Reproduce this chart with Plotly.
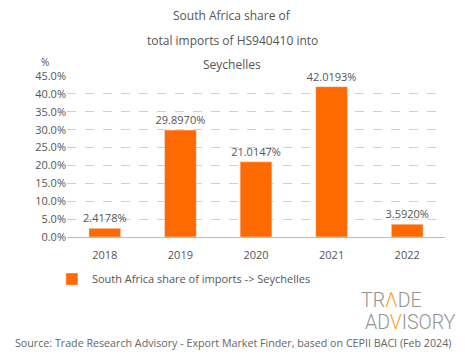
import plotly.graph_objects as go

years = ["2018", "2019", "2020", "2021", "2022"]
shares = [2.4178, 29.8970, 21.0147, 42.0193, 3.5920]
labels = ["2.4178%", "29.8970%", "21.0147%", "42.0193%", "3.5920%"]
series_name = "South Africa share of imports -> Seychelles"
title_lines = ["South Africa share of", "total imports of HS940410 into", "Seychelles"]
source = "Source: Trade Research Advisory - Export Market Finder, based on CEPII BACI (Feb 2024)"

FONT = "Open Sans"
GRAY = "#555555"

fig = go.Figure()
fig.add_trace(go.Bar(
    x=years, y=shares, name=series_name,
    marker_color="#FF6A00", width=0.42,
    text=labels, textposition="outside", cliponaxis=False, constraintext="none",
    textfont=dict(size=11, color=GRAY, family=FONT),
))

def py(ypix):
    return (237 - ypix) / 161

def px(xpix):
    return (xpix - 67) / 378

ann = []
for t, ypix in zip(title_lines, [16, 40, 64]):
    ann.append(dict(text=t, xref="paper", yref="paper", x=px(232), y=py(ypix), xanchor="center",
                    yanchor="middle", showarrow=False,
                    font=dict(size=12, color=GRAY, family=FONT)))
ann.append(dict(text="%", xref="paper", yref="paper", x=px(45), y=py(62),
                xanchor="center", yanchor="middle", showarrow=False,
                font=dict(size=10, color=GRAY, family=FONT)))
ann.append(dict(text="TR<span style='color:#F5A623'>Λ</span>DE", xref="paper", yref="paper",
                x=px(391), y=py(300), xanchor="center", yanchor="middle",
                showarrow=False, font=dict(size=19.5, color="#939393", family="Roboto", weight=300)))
ann.append(dict(text="AD<span style='color:#F5A623'>V</span>ISORY", xref="paper", yref="paper",
                x=px(410), y=py(322), xanchor="center", yanchor="middle",
                showarrow=False, font=dict(size=19.5, color="#939393", family="Roboto", weight=300)))
ann.append(dict(text=source, xref="paper", yref="paper", x=px(233), y=py(343),
                xanchor="center", yanchor="middle", showarrow=False,
                font=dict(size=10.7, color="#666666", family=FONT)))

# page body adds an 8px margin; compensate so the visible layout matches
fig.update_layout(
    width=457, height=351,
    margin=dict(l=59, r=20, t=68, b=122),
    paper_bgcolor="white", plot_bgcolor="white",
    font=dict(family=FONT, color=GRAY, size=11),
    showlegend=True,
    legend=dict(orientation="h", x=-0.04, y=py(279), xanchor="left", yanchor="middle",
                font=dict(size=11, color=GRAY, family=FONT)),
    annotations=ann,
)
fig.update_yaxes(range=[0, 45], dtick=5, tickformat=".1f", ticksuffix="%", automargin=False,
                 showgrid=True, gridcolor="#d0d0d0", griddash="dash", gridwidth=1,
                 zeroline=True, zerolinecolor="#bbbbbb", zerolinewidth=1,
                 tickfont=dict(size=11, color=GRAY), ticks="", ticklen=0)
fig.update_xaxes(showline=False, tickfont=dict(size=11, color=GRAY), ticks="outside",
                 ticklen=8, tickcolor="white", automargin=False)

fig.write_html("out.html")
